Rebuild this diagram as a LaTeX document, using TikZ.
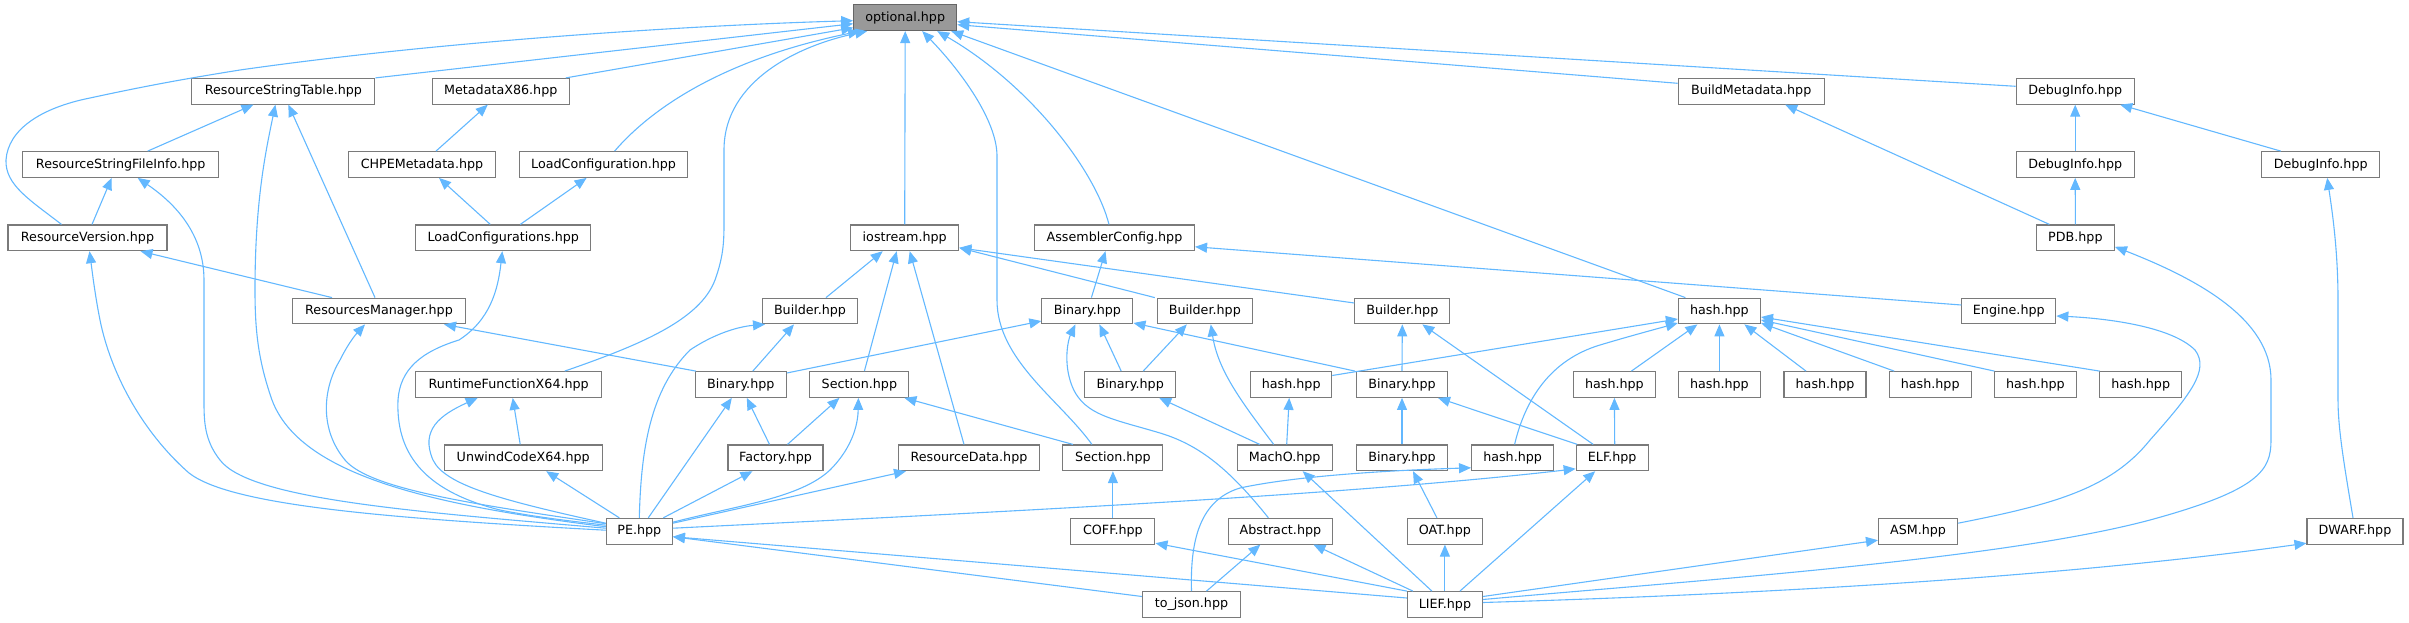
\documentclass[tikz,border=0pt]{standalone}
\usepackage{fontspec}
\setmainfont{DejaVu Sans}
\usetikzlibrary{arrows.meta}
\definecolor{edgec}{HTML}{63B8FF}
\definecolor{nodeb}{HTML}{7A7A7A}
\definecolor{rootf}{HTML}{999999}
\definecolor{rootb}{HTML}{666666}
\tikzset{
  nd/.style={draw=nodeb, fill=white, line width=1.1pt, minimum height=25.7pt, inner sep=0pt,
     font=\fontsize{12.7}{15}\selectfont},
  rootnd/.style={nd, draw=rootb, fill=rootf},
  edge/.style={draw=edgec, line width=1.1pt, -{Triangle[length=12pt,width=10pt]}}
}
\begin{document}
\begin{tikzpicture}[x=1pt,y=-1pt]
\useasboundingbox (0,0) rectangle (2409,623);
% nodes
\node[rootnd, minimum width=103pt] (opt) at (905.2,17.7) {optional.hpp};
\node[nd, minimum width=183pt] (rst) at (283.4,91.3) {ResourceStringTable.hpp};
\node[nd, minimum width=137pt] (mx86) at (500.8,91.3) {MetadataX86.hpp};
\node[nd, minimum width=146pt] (bmeta) at (1751.2,91.3) {BuildMetadata.hpp};
\node[nd, minimum width=118pt] (dbg) at (2075.2,91.3) {DebugInfo.hpp};
\node[nd, minimum width=196pt] (rsfi) at (120.7,164.5) {ResourceStringFileInfo.hpp};
\node[nd, minimum width=147pt] (chpe) at (422,164.5) {CHPEMetadata.hpp};
\node[nd, minimum width=168pt] (lcfg) at (603.6,164.5) {LoadConfiguration.hpp};
\node[nd, minimum width=118pt] (dbgA) at (2075.2,164.5) {DebugInfo.hpp};
\node[nd, minimum width=118pt] (dbgB) at (2320.7,164.5) {DebugInfo.hpp};
\node[nd, minimum width=159pt] (rver) at (87.5,237.8) {ResourceVersion.hpp};
\node[nd, minimum width=175pt] (lcfgs) at (503.3,237.8) {LoadConfigurations.hpp};
\node[nd, minimum width=108pt] (ios) at (904.7,237.8) {iostream.hpp};
\node[nd, minimum width=160pt] (asmcfg) at (1114.5,237.8) {AssemblerConfig.hpp};
\node[nd, minimum width=78pt] (pdb) at (2075.4,237.8) {PDB.hpp};
\node[nd, minimum width=173pt] (rmgr) at (379,311) {ResourcesManager.hpp};
\node[nd, minimum width=95pt] (bld1) at (810,311) {Builder.hpp};
\node[nd, minimum width=91pt] (binA) at (1087.4,311) {Binary.hpp};
\node[nd, minimum width=95pt] (bld2) at (1204.8,311) {Builder.hpp};
\node[nd, minimum width=95pt] (bld3) at (1402.3,311) {Builder.hpp};
\node[nd, minimum width=82pt] (hash) at (1719.4,311) {hash.hpp};
\node[nd, minimum width=94pt] (engine) at (2008.8,311) {Engine.hpp};
\node[nd, minimum width=186pt] (rtf) at (508.7,384.5) {RuntimeFunctionX64.hpp};
\node[nd, minimum width=91pt] (binPE) at (740.8,384.5) {Binary.hpp};
\node[nd, minimum width=99pt] (sec5) at (859.4,384.5) {Section.hpp};
\node[nd, minimum width=91pt] (binM) at (1130.2,384.5) {Binary.hpp};
\node[nd, minimum width=81pt] (hashM) at (1291.2,384.5) {hash.hpp};
\node[nd, minimum width=91pt] (binE) at (1402,384.5) {Binary.hpp};
\node[nd, minimum width=82pt] (hashE) at (1614.4,384.5) {hash.hpp};
\node[nd, minimum width=82pt] (hash3) at (1719.4,384.5) {hash.hpp};
\node[nd, minimum width=82pt] (hash4) at (1825,384.5) {hash.hpp};
\node[nd, minimum width=82pt] (hash5) at (1930.2,384.5) {hash.hpp};
\node[nd, minimum width=82pt] (hash6) at (2035.4,384.5) {hash.hpp};
\node[nd, minimum width=82pt] (hash7) at (2140.7,384.5) {hash.hpp};
\node[nd, minimum width=158pt] (unw) at (523.2,457.8) {UnwindCodeX64.hpp};
\node[nd, minimum width=95pt] (fac) at (775.5,457.8) {Factory.hpp};
\node[nd, minimum width=141pt] (rdata) at (969,457.8) {ResourceData.hpp};
\node[nd, minimum width=100pt] (sec6) at (1112.9,457.8) {Section.hpp};
\node[nd, minimum width=95pt] (macho) at (1284.7,457.8) {MachO.hpp};
\node[nd, minimum width=91pt] (binO) at (1402,457.8) {Binary.hpp};
\node[nd, minimum width=82pt] (hashP) at (1512.6,457.8) {hash.hpp};
\node[nd, minimum width=72pt] (elf) at (1612.2,457.8) {ELF.hpp};
\node[nd, minimum width=66pt] (pe) at (639.3,531.2) {PE.hpp};
\node[nd, minimum width=84pt] (coff) at (1112.9,531.2) {COFF.hpp};
\node[nd, minimum width=104pt] (abs) at (1280.4,531.2) {Abstract.hpp};
\node[nd, minimum width=75pt] (oat) at (1444.9,531.2) {OAT.hpp};
\node[nd, minimum width=79pt] (asm) at (1918,531.2) {ASM.hpp};
\node[nd, minimum width=96pt] (dwarf) at (2355,531.2) {DWARF.hpp};
\node[nd, minimum width=98pt] (tojson) at (1191.5,604.5) {to\_json.hpp};
\node[nd, minimum width=75pt] (lief) at (1444.9,604.5) {LIEF.hpp};

% edges into optional.hpp
\draw[edge] ([xshift=-26pt]rver.north) .. controls (30,200) and (5,185) .. (6,160)
  .. controls (8,130) and (40,108) .. (90,98) .. controls (150,85) and (190,78) .. (240,70)
  .. controls (450,40) and (700,25) .. ([yshift=-3pt]opt.west);
\draw[edge] (rst.north east) -- ([yshift=-6pt]opt.west);
\draw[edge] ([xshift=65pt]mx86.north) -- ([yshift=-10pt]opt.west);
\draw[edge] ([xshift=11pt]lcfg.north) .. controls (650,110) and (720,60) .. ([xshift=-45pt]opt.south);
\draw[edge] ([xshift=56pt]rtf.north) .. controls (640,345) and (700,320) .. (715,280)
  .. controls (724,255) and (724,240) .. (724,220) -- (724,150)
  .. controls (724,80) and (800,45) .. ([xshift=-38pt]opt.south);
\draw[edge] (ios.north) -- (opt.south);
\draw[edge] ([xshift=-21pt]sec6.north) .. controls (1060,400) and (997,360) .. (997,300)
  -- (997,156) .. controls (997,120) and (960,70) .. ([xshift=17pt]opt.south);
\draw[edge] ([xshift=-5.5pt]asmcfg.north) .. controls (1095,170) and (1030,85) .. ([xshift=32pt]opt.south);
\draw[edge] ([xshift=-34pt]hash.north) -- ([xshift=46pt]opt.south);
\draw[edge] ([yshift=8pt]bmeta.west) -- ([yshift=-7pt]opt.east);
\draw[edge] ([yshift=5pt]dbg.west) -- ([yshift=-4pt]opt.east);

% ResourceStringTable
\draw[edge] ([xshift=27pt]rsfi.north) -- ([xshift=-30pt]rst.south);
\draw[edge] ([yshift=4.5pt]pe.west) .. controls (430,505) and (300,475) .. (272,400)
  .. controls (258,360) and (255,330) .. (255,290) .. controls (255,200) and (266,150) .. ([xshift=-8pt]rst.south);
\draw[edge] ([xshift=-4pt]rmgr.north) -- ([xshift=5pt]rst.south);
% MetadataX86 / CHPE / LoadConfiguration(s)
\draw[edge] ([xshift=14pt]chpe.north) -- ([xshift=-13pt]mx86.south);
\draw[edge] ([xshift=-13pt]lcfgs.north) -- ([xshift=17pt]chpe.south);
\draw[edge] ([xshift=17pt]lcfgs.north) -- ([xshift=-17pt]lcfg.south);
\draw[edge] ([yshift=6pt]pe.west) .. controls (580,522) and (540,518) .. (500,510)
  .. controls (420,490) and (396,450) .. (398,400) .. controls (400,370) and (420,352) .. (459,340)
  .. controls (490,320) and (498,290) .. ([xshift=-1pt]lcfgs.south);
% ResourceStringFileInfo
\draw[edge] ([xshift=4.5pt]rver.north) -- ([xshift=-9pt]rsfi.south);
\draw[edge] ([yshift=3pt]pe.west) .. controls (420,512) and (250,500) .. (220,460)
  .. controls (204,440) and (204,420) .. (204,400) -- (204,280)
  .. controls (204,230) and (170,200) .. ([xshift=17pt]rsfi.south);
% ResourceVersion
\draw[edge] ([yshift=1pt]pe.west) .. controls (380,518) and (230,505) .. (189,473)
  .. controls (140,430) and (110,370) .. (100,320) .. controls (95,295) and (92,270) .. ([xshift=2pt]rver.south);
\draw[edge] ([xshift=-47pt]rmgr.north) -- ([xshift=53pt]rver.south);
% ResourcesManager
\draw[edge] ([yshift=7.5pt]pe.west) .. controls (480,505) and (370,490) .. (345,460)
  .. controls (320,430) and (322,390) .. (340,360) .. controls (350,340) and (358,332) .. ([xshift=-14pt]rmgr.south);
\draw[edge] ([xshift=-45pt]binPE.north) -- ([xshift=65pt]rmgr.south);
% RuntimeFunctionX64 / UnwindCodeX64
\draw[edge] ([xshift=-3pt]unw.north) -- ([xshift=4pt]rtf.south);
\draw[edge] ([yshift=8pt]pe.west) .. controls (500,500) and (445,485) .. (433,460)
  .. controls (420,430) and (440,415) .. ([xshift=-31pt]rtf.south);
\draw[edge] ([xshift=-20pt]pe.north) -- ([xshift=23pt]unw.south);
% Binary (PE) / Factory / Builder
\draw[edge] ([xshift=9pt]pe.north) -- ([xshift=-9pt]binPE.south);
\draw[edge] ([xshift=-6pt]fac.north) -- ([xshift=6pt]binPE.south);
\draw[edge] ([xshift=24pt]pe.north) -- ([xshift=-23pt]fac.south);
\draw[edge] (pe.north) .. controls (641,450) and (650,390) .. (690,350)
  .. controls (720,330) and (745,326) .. ([xshift=-45pt]bld1.south);
\draw[edge] ([xshift=12pt]binPE.north) -- ([xshift=-16pt]bld1.south);
% iostream
\draw[edge] ([xshift=16pt]bld1.north) -- ([xshift=-22pt]ios.south);
\draw[edge] ([xshift=5pt]sec5.north) -- ([xshift=-8pt]ios.south);
\draw[edge] ([xshift=-5pt]rdata.north) -- ([xshift=5pt]ios.south);
\draw[edge] ([xshift=-50pt]bld2.north) -- ([yshift=-10pt]ios.east);
\draw[edge] ([yshift=8pt]bld3.west) -- ([yshift=-10pt]ios.east);
% AssemblerConfig
\draw[edge] ([xshift=4pt]binA.north) -- ([xshift=-9pt]asmcfg.south);
\draw[edge] ([yshift=6pt]engine.west) -- ([yshift=-9pt]asmcfg.east);
% Binary (abstract)
\draw[edge] ([yshift=11.5pt]binPE.east) -- ([yshift=-10pt]binA.west);
\draw[edge] ([xshift=-9pt]binM.north) -- ([xshift=12pt]binA.south);
\draw[edge] ([xshift=-47pt]binE.north) -- ([yshift=-12pt]binA.east);
\draw[edge] ([xshift=-12pt]abs.north) .. controls (1230,470) and (1200,445) .. (1160,433)
  .. controls (1110,418) and (1080,415) .. (1070,380) .. controls (1064,360) and (1068,340) .. ([xshift=-12pt]binA.south);
% Builders
\draw[edge] ([xshift=13pt]binM.north) -- ([xshift=-18pt]bld2.south);
\draw[edge] ([xshift=-11pt]macho.north) .. controls (1240,400) and (1218,370) .. ([xshift=6pt]bld2.south);
\draw[edge] (binE.north) -- (bld3.south);
\draw[edge] ([xshift=-19pt]elf.north) -- ([xshift=20pt]bld3.south);
% Section (row 5)
\draw[edge] ([xshift=12pt]fac.north) -- ([xshift=-20pt]sec5.south);
\draw[edge] ([xshift=-40pt]sec6.north) -- ([xshift=45pt]sec5.south);
\draw[edge] ([yshift=9pt]pe.east) .. controls (740,505) and (800,498) .. (830,470)
  .. controls (855,445) and (858,420) .. ([xshift=-1pt]sec5.south);
% MachO
\draw[edge] ([xshift=-25pt]macho.north) -- ([xshift=29pt]binM.south);
\draw[edge] ([xshift=2pt]macho.north) -- ([xshift=-2pt]hashM.south);
% hash (top)
\draw[edge] ([yshift=9pt]hashM.east) -- ([yshift=-8pt]hash.west);
\draw[edge] ([xshift=2pt]hashP.north) .. controls (1525,400) and (1550,360) .. (1600,345)
  .. controls (1630,336) and (1660,328) .. ([yshift=-12pt]hash.west);
\draw[edge] ([xshift=17pt]hashE.north) -- ([xshift=-22pt]hash.south);
\draw[edge] (hash3.north) -- (hash.south);
\draw[edge] ([xshift=-19pt]hash4.north) -- ([xshift=25pt]hash.south);
\draw[edge] ([xshift=-36pt]hash5.north) -- ([yshift=-12pt]hash.east);
\draw[edge] ([xshift=-41pt]hash6.north) -- ([yshift=-9pt]hash.east);
\draw[edge] ([xshift=-41pt]hash7.north) -- ([yshift=-6pt]hash.east);
% ELF side
\draw[edge] (binO.north) -- (binE.south);
\draw[edge] ([xshift=-35pt]elf.north) -- ([xshift=36pt]binE.south);
\draw[edge] ([xshift=2.5pt]elf.north) -- (hashE.south);
% Engine / PDB / DebugInfo / DWARF
\draw[edge] ([yshift=8pt]asm.east) .. controls (2050,505) and (2110,490) .. (2150,440)
  .. controls (2190,395) and (2210,370) .. (2195,350) .. controls (2170,325) and (2100,318) .. ([yshift=-5pt]engine.east);
\draw[edge] ([yshift=5pt]lief.east) .. controls (1700,580) and (2000,560) .. (2150,520)
  .. controls (2260,490) and (2271,470) .. (2271,440) -- (2271,380)
  .. controls (2271,320) and (2200,280) .. ([yshift=-9pt]pdb.east);
\draw[edge] ([yshift=2pt]lief.east) .. controls (1900,590) and (2150,565) .. ([yshift=-12pt]dwarf.west);
\draw[edge] ([yshift=8pt]lief.east) -- ([yshift=-9pt]asm.west);
\draw[edge] ([xshift=-2pt]dwarf.north) .. controls (2345,470) and (2338,430) .. (2338,400) -- (2338,300)
  .. controls (2338,250) and (2332,210) .. ([xshift=6.5pt]dbgB.south);
\draw[edge] (pdb.north) -- (dbgA.south);
\draw[edge] ([xshift=-26pt]pdb.north) -- ([xshift=34pt]bmeta.south);
\draw[edge] (dbgA.north) -- (dbg.south);
\draw[edge] ([xshift=-40pt]dbgB.north) -- ([xshift=45pt]dbg.south);
% LIEF.hpp
\draw[edge] ([xshift=-13pt]lief.north) -- ([xshift=18pt]macho.south);
\draw[edge] ([xshift=15pt]lief.north) -- ([xshift=-17pt]elf.south);
\draw[edge] (lief.north) -- (oat.south);
\draw[edge] ([xshift=-32pt]lief.north) -- ([xshift=33pt]abs.south);
\draw[edge] (lief.north west) -- ([yshift=-12pt]coff.east);
\draw[edge] ([yshift=6.5pt]lief.west) -- ([yshift=-5.5pt]pe.east);
% to_json.hpp
\draw[edge] ([yshift=8pt]tojson.west) -- ([yshift=-5.5pt]pe.east);
\draw[edge] ([xshift=15pt]tojson.north) -- ([xshift=-20pt]abs.south);
\draw[edge] (tojson.north) .. controls (1190,540) and (1200,500) .. (1240,488)
  .. controls (1300,475) and (1400,470) .. ([yshift=-10pt]hashP.west);
% PE.hpp to the right
\draw[edge] ([yshift=3pt]pe.east) .. controls (1000,512) and (1350,495) .. ([yshift=-11pt]elf.west);
\draw[edge] ([yshift=8pt]pe.east) -- ([xshift=-63pt]rdata.south);
% remaining
\draw[edge] (coff.north) -- (sec6.south);
\draw[edge] ([xshift=-8pt]oat.north) -- ([xshift=11pt]binO.south);
\end{tikzpicture}
\end{document}
